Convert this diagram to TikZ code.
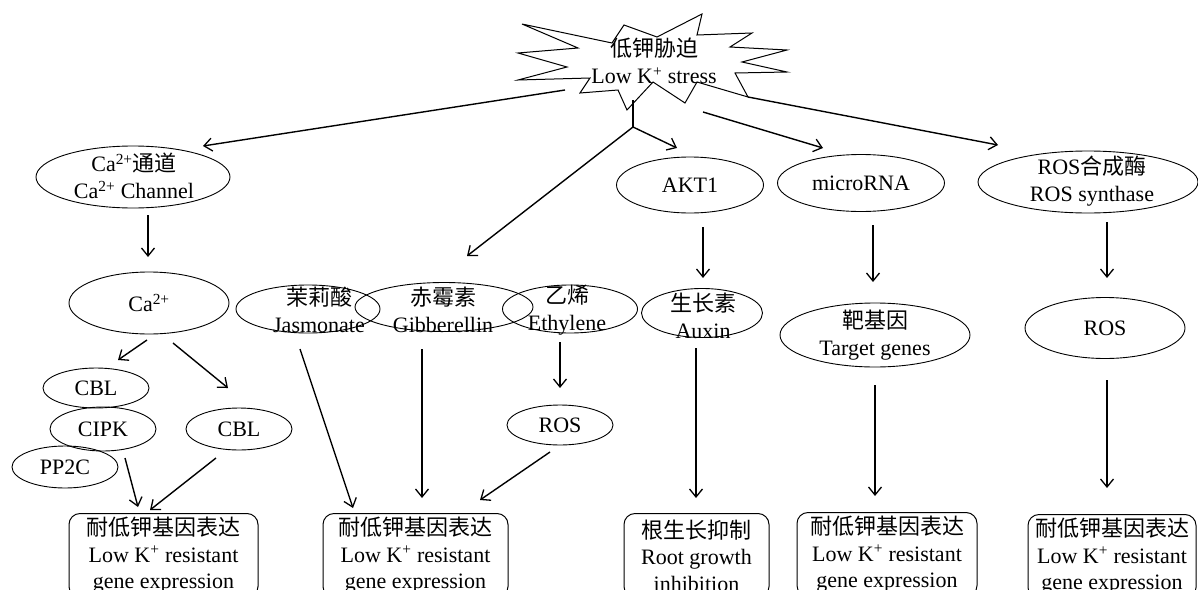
\documentclass[tikz,border=0pt]{standalone}
\usepackage{fontspec}
\setmainfont{Liberation Serif}
\newfontfamily\cjk{Noto Sans CJK SC}
\usetikzlibrary{arrows.meta,shapes.geometric,calc}
\newcommand{\zhs}[1]{{\cjk #1}}
\begin{document}
\begin{tikzpicture}[x=1pt,y=-1pt,
  oval/.style={draw, ellipse, line width=0.9pt, inner sep=0pt},
  txt/.style={align=center, inner sep=0pt, font=\fontsize{22}{27}\selectfont},
  resbox/.style={draw, rounded corners=11pt, line width=1pt, anchor=north, align=center, inner sep=0pt, font=\fontsize{22}{26.5}\selectfont},
  arr/.style={line width=1.4pt, -{Straight Barb[length=8pt,width=13pt,line width=1.3pt]}},
  link/.style={line width=1.4pt}]
\useasboundingbox (0,0) rectangle (1198,589);
\clip (0,0) rectangle (1198,589);

% starburst
\draw[line width=1pt] (522,24) -- (612,43) -- (624,25) -- (657,37) -- (702,14) -- (697,35) -- (752,33) -- (730,47) -- (787,50) -- (742,62) -- (787,72) -- (735,73) -- (748,97) -- (697,82) -- (685,103) -- (653,82) -- (627,110) -- (618,90) -- (580,93) -- (590,78) -- (518,80) -- (567,67) -- (518,53) -- (578,48) -- cycle;
\node[txt] (startxt) at (654,61) {\zhs{低钾胁迫}\\Low K\textsuperscript{+} stress};
\coordinate (s1) at (565,90);
\coordinate (s2) at (633,100);
\coordinate (br) at (633,127);
\coordinate (s3) at (703,112);
\coordinate (s4) at (748,97);

% ellipses
\node[oval, minimum width=194pt, minimum height=62pt] (cach) at (133,177) {};
\node[txt] (cacht) at (134,176) {Ca\textsuperscript{2+}\zhs{通道}\\Ca\textsuperscript{2+} Channel};
\node[oval, minimum width=160pt, minimum height=62pt] (ca) at (149,303) {};
\node[txt] (cat) at (149,303) {Ca\textsuperscript{2+}};
\node[oval, minimum width=106pt, minimum height=40pt] (cbl1) at (96,388) {};
\node[txt] (cbl1t) at (96,388) {CBL};
\node[oval, minimum width=106pt, minimum height=44pt] (cipk) at (103,429) {};
\node[txt] (cipkt) at (103,429) {CIPK};
\node[oval, minimum width=106pt, minimum height=42pt] (pp2c) at (65,467) {};
\node[txt] (pp2ct) at (65,467) {PP2C};
\node[oval, minimum width=106pt, minimum height=42pt] (cbl2) at (239,429) {};
\node[txt] (cbl2t) at (239,429) {CBL};

\node[oval, minimum width=144pt, minimum height=48pt] (jas) at (308,309) {};
\node[oval, minimum width=178pt, minimum height=49pt] (gib) at (444,307) {};
\node[oval, minimum width=135pt, minimum height=48pt] (eth) at (570,309) {};
\node[txt] (jast) at (319,310) {\zhs{茉莉酸}\\Jasmonate};
\node[txt] (gibt) at (443,310) {\zhs{赤霉素}\\Gibberellin};
\node[txt] (etht) at (567,310) {\zhs{乙烯}\\Ethylene};
\node[oval, minimum width=106pt, minimum height=40pt] (ros1) at (560,425) {};
\node[txt] (ros1t) at (560,425) {ROS};

\node[oval, minimum width=147pt, minimum height=56pt] (akt) at (690,185) {};
\node[txt] (aktt) at (690,185) {AKT1};
\node[oval, minimum width=121pt, minimum height=49pt] (aux) at (702,313) {};
\node[txt] (auxt) at (703,316) {\zhs{生长素}\\Auxin};

\node[oval, minimum width=167pt, minimum height=57pt] (mir) at (861,183) {};
\node[txt] (mirt) at (861,183) {microRNA};
\node[oval, minimum width=190pt, minimum height=64pt] (tgt) at (875,335) {};
\node[txt] (tgtt) at (875,335) {\zhs{靶基因}\\Target genes};

\node[oval, minimum width=220pt, minimum height=62pt] (rsyn) at (1088,182) {};
\node[txt] (rsynt) at (1092,181) {ROS\zhs{合成酶}\\ROS synthase};
\node[oval, minimum width=160pt, minimum height=61pt] (ros2) at (1105,328) {};
\node[txt] (ros2t) at (1105,328) {ROS};

% result boxes
\node[resbox, minimum width=189pt, minimum height=84pt] (b1) at (163.5,513) {\zhs{耐低钾基因表达}\\Low K\textsuperscript{+} resistant\\gene expression};
\node[resbox, minimum width=185pt, minimum height=84pt] (b2) at (415.5,513) {\zhs{耐低钾基因表达}\\Low K\textsuperscript{+} resistant\\gene expression};
\node[resbox, minimum width=145pt, minimum height=84pt] (b3) at (696.5,513) {\zhs{根生长抑制}\\Root growth\\inhibition};
\node[resbox, minimum width=180pt, minimum height=84pt] (b4) at (887,512) {\zhs{耐低钾基因表达}\\Low K\textsuperscript{+} resistant\\gene expression};
\node[resbox, minimum width=168pt, minimum height=84pt] (b5) at (1112,514) {\zhs{耐低钾基因表达}\\Low K\textsuperscript{+} resistant\\gene expression};

% connectors from the star
\draw[arr] (s1) -- ($(cach.center)+(70,-31)$);
\draw[link] (s2) -- (br);
\draw[arr] (br) -- ($(gib.center)+(23,-51)$);
\draw[arr] (br) -- ($(akt.center)+(-13,-37)$);
\draw[arr] (s3) -- ($(mir.center)+(-38,-35)$);
\draw[arr] (s4) -- ($(rsyn.center)+(-90,-37)$);

% Ca branch
\draw[arr] ($(cach.center)+(15,38)$) -- ($(ca.center)+(-1,-46)$);
\draw[arr] ($(ca.center)+(-2,37)$) -- ($(cbl1.center)+(22,-28)$);
\draw[arr] ($(ca.center)+(24,40)$) -- ($(cbl2.center)+(-11,-41)$);
\draw[arr] ($(cipk.center)+(22,29)$) -- ($(b1.north)+(-25.5,-6)$);
\draw[arr] ($(cbl2.center)+(-23,29)$) -- ($(b1.north)+(-13.5,-3)$);

% hormone branch
\draw[arr] ($(jas.center)+(-8,40)$) -- ($(b2.north)+(-62.5,-5)$);
\draw[arr] ($(gib.center)+(-22,42)$) -- ($(b2.north)+(6.5,-15)$);
\draw[arr] ($(eth.center)+(-10,33)$) -- ($(ros1.center)+(0,-37)$);
\draw[arr] ($(ros1.center)+(-10,27)$) -- ($(b2.north)+(64.5,-13)$);

% AKT1 branch
\draw[arr] ($(akt.center)+(13,42)$) -- ($(aux.center)+(1,-35)$);
\draw[arr] ($(aux.center)+(-6,35)$) -- ($(b3.north)+(-0.5,-15)$);

% microRNA branch
\draw[arr] ($(mir.center)+(12,42)$) -- ($(tgt.center)+(-2,-53)$);
\draw[arr] ($(tgt.center)+(0,50)$) -- ($(b4.north)+(-12,-16)$);

% ROS synthase branch
\draw[arr] ($(rsyn.center)+(19,40)$) -- ($(ros2.center)+(2,-50)$);
\draw[arr] ($(ros2.center)+(2,52)$) -- ($(b5.north)+(-5,-26)$);
\end{tikzpicture}
\end{document}
